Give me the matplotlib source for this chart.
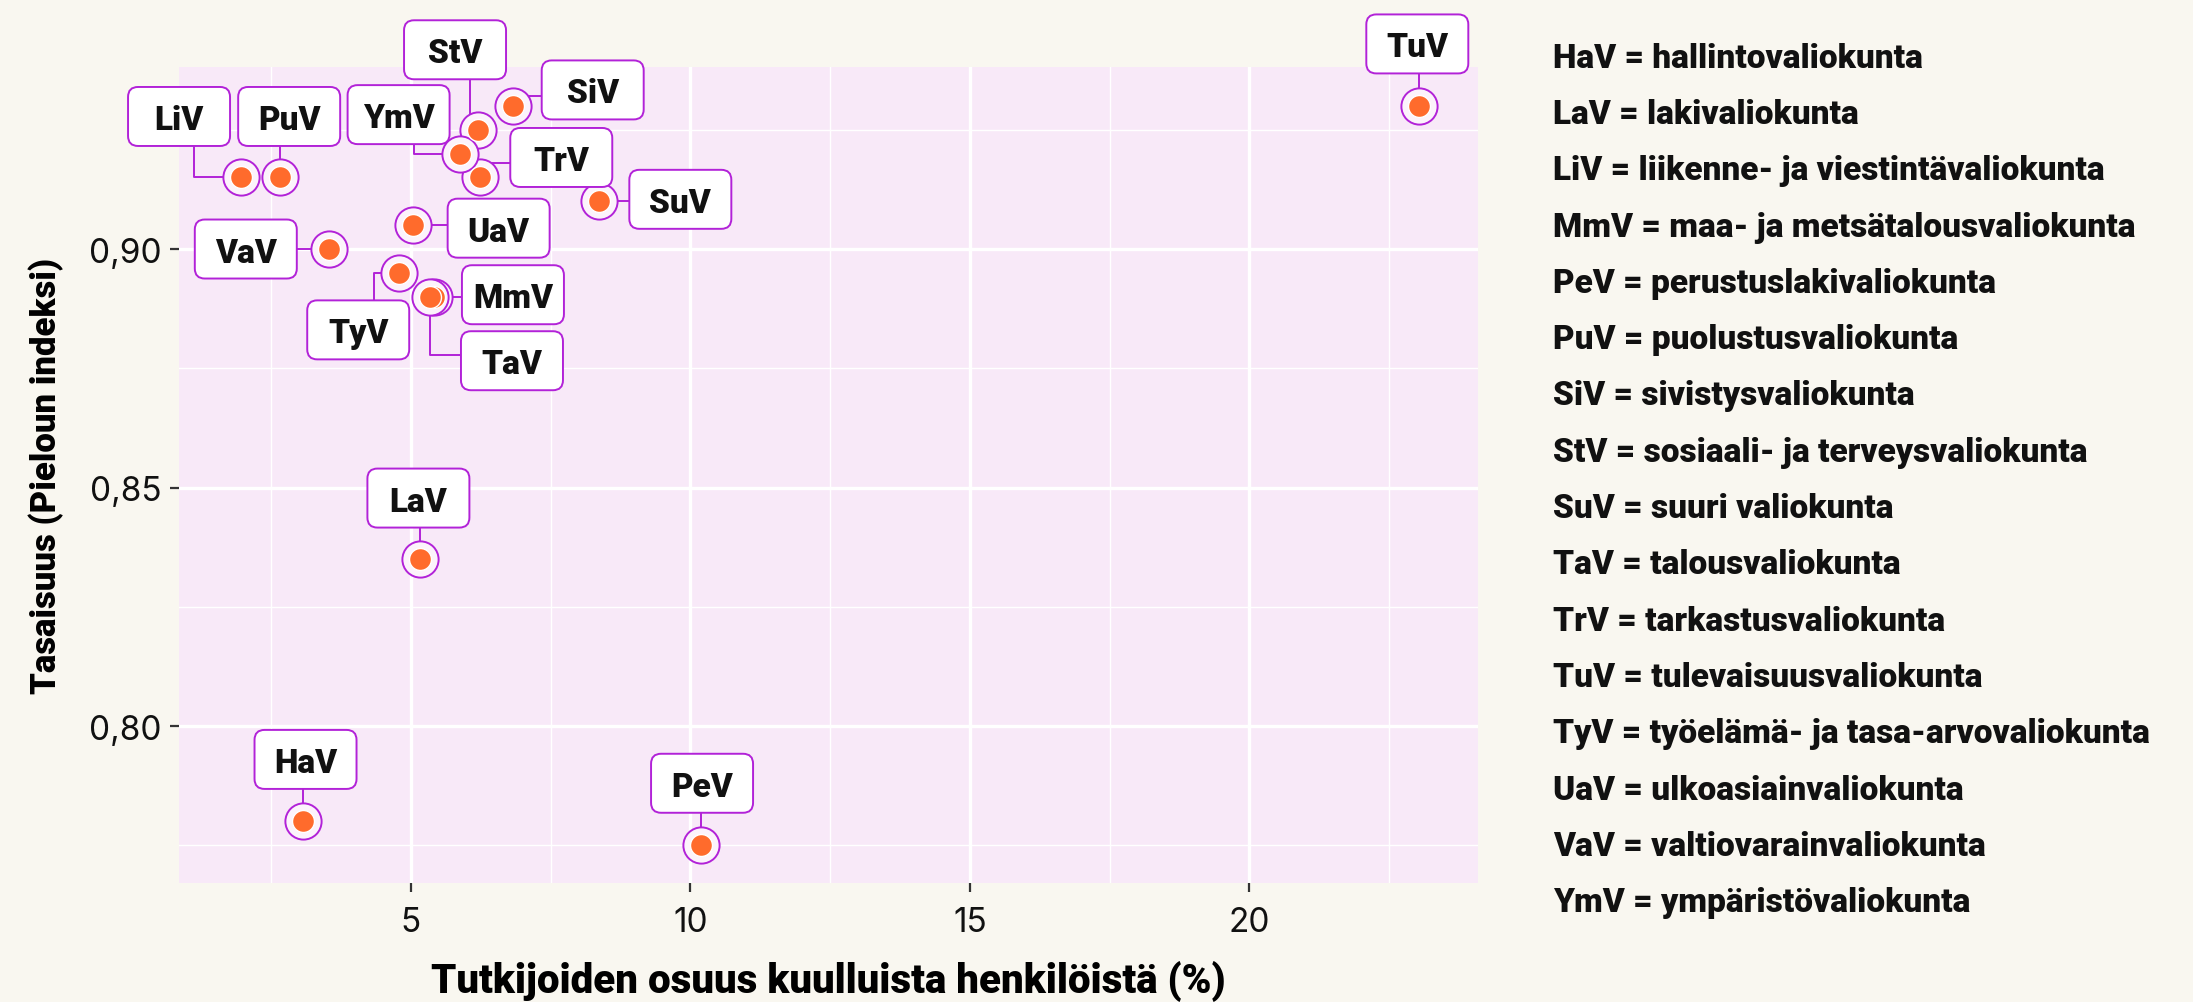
import matplotlib
matplotlib.use("Agg")
import matplotlib.pyplot as plt
import matplotlib.transforms as mtransforms
from matplotlib.patches import FancyBboxPatch
from matplotlib.ticker import FuncFormatter, MultipleLocator

# data
lyhenne = ['HaV', 'LaV', 'LiV', 'MmV', 'PeV', 'PuV', 'SiV', 'StV',
           'SuV', 'TaV', 'TrV', 'TuV', 'TyV', 'UaV', 'VaV', 'YmV']
tutkijat = [3.06, 5.16, 1.96, 5.42, 10.19, 2.66, 6.82, 6.20,
            8.37, 5.34, 6.24, 23.04, 4.79, 5.03, 3.53, 5.87]
tasaisuus = [0.780, 0.835, 0.915, 0.890, 0.775, 0.915, 0.930, 0.925,
             0.910, 0.890, 0.915, 0.930, 0.895, 0.905, 0.900, 0.920]
valiokunta = ['hallintovaliokunta', 'lakivaliokunta',
              'liikenne- ja viestintävaliokunta', 'maa- ja metsätalousvaliokunta',
              'perustuslakivaliokunta', 'puolustusvaliokunta', 'sivistysvaliokunta',
              'sosiaali- ja terveysvaliokunta', 'suuri valiokunta', 'talousvaliokunta',
              'tarkastusvaliokunta', 'tulevaisuusvaliokunta',
              'työelämä- ja tasa-arvovaliokunta', 'ulkoasiainvaliokunta',
              'valtiovarainvaliokunta', 'ympäristövaliokunta']

# label placement, pixels from the point (y up); 'v' = leader leaves top/bottom
lab_dx = [3, -1.5, -62, 78.5, 1, 9, 80, -23, 81, 82, 81, -2, -41, 86, -83, -61]
lab_dy = [62, 61, 61, 2, 62, 61, 16, 80, 2, -64, 20, 62, -57, -3, 0, 39]
lab_side = ['v', 'v', 'v', 'h', 'v', 'v', 'h', 'v', 'h', 'h', 'h', 'v', 'v', 'h', 'h', 'v']

BG = '#F9F7F0'
PANEL = '#F8E9F8'
PURPLE = '#B222D8'
ORANGE = '#FF6B2C'
BOX_W, BOX_H = 102, 59

plt.rcParams['font.family'] = ['Roboto', 'DejaVu Sans']

fig = plt.figure(figsize=(21.93, 10.03), dpi=100, facecolor=BG)
ax = fig.add_axes([179/2193, 1-884/1003, (1478-179)/2193, (884-68)/1003])
ax.set_facecolor(PANEL)
for s in ax.spines.values():
    s.set_visible(False)

ax.set_xlim(0.85, 24.09)
ax.set_ylim(0.76709, 0.93816)
ax.xaxis.set_major_locator(MultipleLocator(5))
ax.xaxis.set_minor_locator(MultipleLocator(2.5))
ax.yaxis.set_major_locator(MultipleLocator(0.05))
ax.yaxis.set_minor_locator(MultipleLocator(0.025))
ax.yaxis.set_major_formatter(FuncFormatter(lambda v, p: f'{v:.2f}'.replace('.', ',')))
ax.grid(which='major', color='white', lw=2.4)
ax.grid(which='minor', color='white', lw=1.0)
ax.set_axisbelow(True)
ax.tick_params(which='major', length=6.5, width=1.6, color='#333333', pad=6,
               labelsize=24, labelcolor='#111111')
ax.tick_params(which='minor', length=0)
for t in ax.get_xticklabels() + ax.get_yticklabels():
    t.set_fontfamily(['Inter', 'DejaVu Sans'])
ax.tick_params(axis='x', pad=10)

ax.set_xlabel('Tutkijoiden osuus kuulluista henkilöistä (%)', fontsize=29,
              fontweight='heavy', labelpad=16)
ax.set_ylabel('Tasaisuus (Pieloun indeksi)', fontsize=25, fontweight='heavy', labelpad=18)

ax.scatter(tutkijat, tasaisuus, s=680, facecolor='#FCF3FB', edgecolor=PURPLE,
           linewidth=1.4, zorder=3, clip_on=False)
ax.scatter(tutkijat, tasaisuus, s=250, facecolor=ORANGE, edgecolor='white',
           linewidth=1.0, zorder=4, clip_on=False)

for i, name in enumerate(lyhenne):
    tr = mtransforms.Affine2D() + mtransforms.ScaledTranslation(
        tutkijat[i], tasaisuus[i], ax.transData)
    dx, dy = lab_dx[i], lab_dy[i]
    x0, x1 = dx - BOX_W/2, dx + BOX_W/2
    y0, y1 = dy - BOX_H/2, dy + BOX_H/2
    if lab_side[i] == 'v':
        m = 0.35*BOX_W
        ax_ = min(max(0, x0 + m), x1 - m)
        ay = y0 if dy > 0 else y1
        xs, ys = [ax_, ax_, 0], [ay, 0, 0]
    else:
        m = 0.4*BOX_H
        ay = min(max(0, y0 + m), y1 - m)
        ax_ = x0 if dx > 0 else x1
        xs, ys = [ax_, 0, 0], [ay, ay, 0]
    ax.plot(xs, ys, transform=tr, color=PURPLE, lw=1.4, zorder=2, clip_on=False)
    box = FancyBboxPatch((x0, y0), BOX_W, BOX_H,
                         boxstyle='round,pad=0,rounding_size=10',
                         facecolor='white', edgecolor=PURPLE, linewidth=1.4,
                         transform=tr, zorder=5, clip_on=False)
    ax.add_artist(box)
    ax.text(dx, dy, name, transform=tr, ha='center', va='center_baseline',
            fontsize=24, fontweight='heavy', color='#111111', zorder=6, clip_on=False)

# abbreviation key on the right
for i, (a, v) in enumerate(zip(lyhenne, valiokunta)):
    fig.text(1553/2193, 1 - (58.7 + i*56.3)/1003, f'{a} = {v}', fontsize=24,
             fontweight='heavy', color='#111111', ha='left', va='center')

fig.savefig('out.png', dpi=100, facecolor=BG)
